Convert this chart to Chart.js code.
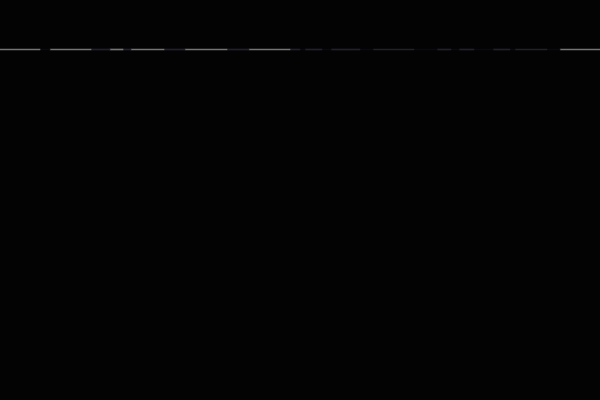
<!DOCTYPE html>
<html>
<head>
    <title>Strip</title>
    <script src="https://cdn.jsdelivr.net/npm/chart.js@4.4.0/dist/chart.umd.min.js"></script>
    <style>
        html, body {
            margin: 0;
            padding: 0;
            background-color: #030303;
        }
        .chart-container {
            width: 600px;
            height: 400px;
        }
    </style>
</head>
<body>
    <div class="chart-container">
        <canvas id="strip-chart"></canvas>
    </div>

    <script>
        // segment lengths along the strip, left to right, and what each one is
        const segmentLengths = [40, 10, 41, 19, 13, 8, 33, 21, 42, 22, 41, 10, 5, 17, 9, 29, 13, 41, 23, 14, 8, 15, 19, 17, 5, 32, 13, 40];
        const segmentKinds = ['on', 'gap', 'on', 'off', 'on', 'off', 'on', 'off', 'on', 'off', 'on', 'off', 'gap', 'off', 'gap', 'off', 'gap', 'off', 'gap', 'off', 'gap', 'off', 'gap', 'off', 'gap', 'off', 'gap', 'on'];
        const categories = ['strip'];

        const kindColors = {
            on: '#747474',
            off: '#20202f',
            gap: '#09090e'
        };

        const datasets = segmentLengths.map((len, i) => ({
            label: segmentKinds[i] + ' ' + i,
            data: [len],
            backgroundColor: kindColors[segmentKinds[i]],
            borderWidth: 0,
            barThickness: 1
        }));

        const ctx = document.getElementById('strip-chart').getContext('2d');
        const stripChart = new Chart(ctx, {
            type: 'bar',
            data: {
                labels: categories,
                datasets: datasets
            },
            options: {
                indexAxis: 'y',
                responsive: true,
                maintainAspectRatio: false,
                animation: false,
                layout: {
                    padding: { top: 0, bottom: 301, left: 0, right: 0 }
                },
                scales: {
                    x: { stacked: true, min: 0, max: 600, display: false },
                    y: { stacked: true, display: false }
                },
                plugins: {
                    legend: { display: false },
                    tooltip: { enabled: false }
                }
            }
        });
    </script>
</body>
</html>
